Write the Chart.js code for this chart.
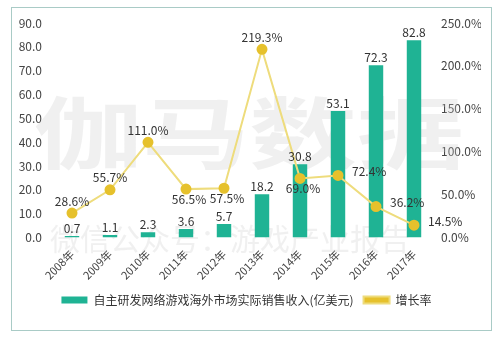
<!DOCTYPE html>
<html lang="zh">
<head>
  <meta charset="UTF-8">
  <title>自主研发网络游戏海外市场实际销售收入</title>
  <script src="https://cdn.jsdelivr.net/npm/chart.js"></script>
  <style>
    body {
      margin: 0;
      background: #ffffff;
      font-family: 'Noto Sans CJK SC', 'Noto Sans', sans-serif;
    }
    .frame {
      position: absolute;
      left: 11px;
      top: 7px;
      width: 479px;
      height: 322px;
      border: 1px solid #a9cbc6;
    }
  </style>
</head>
<body>
  <div class="frame">
    <canvas id="chart" width="479" height="322"></canvas>
  </div>

  <script>
    const years = ['2008年', '2009年', '2010年', '2011年', '2012年', '2013年', '2014年', '2015年', '2016年', '2017年'];
    const revenue = [0.7, 1.1, 2.3, 3.6, 5.7, 18.2, 30.8, 53.1, 72.3, 82.8];
    const growth = [28.6, 55.7, 111.0, 56.5, 57.5, 219.3, 69.0, 72.4, 36.2, 14.5];
    // where each growth label sits relative to its point
    const growthLabelPos = ['above', 'above', 'above', 'below', 'below', 'above', 'below', 'right', 'right', 'right'];

    const FONT = "'Noto Sans CJK SC', 'Noto Sans', sans-serif";

    // faint watermark behind the marks
    const watermark = {
      id: 'watermark',
      beforeDatasetsDraw(chart) {
        const ctx = chart.ctx;
        ctx.save();
        ctx.fillStyle = 'rgba(200, 200, 200, 0.28)';
        ctx.textBaseline = 'middle';
        ctx.textAlign = 'left';
        ctx.save();
        ctx.translate(22, 125);
        ctx.scale(1.38, 1);
        ctx.font = 'bold 78px ' + FONT;
        ctx.fillText('伽马数据', 0, 0);
        ctx.restore();
        ctx.font = '30px ' + FONT;
        ctx.fillText('微信公众号：游戏产业报告', 38, 231);
        ctx.restore();
      }
    };

    const valueLabels = {
      id: 'valueLabels',
      afterDatasetsDraw(chart) {
        const ctx = chart.ctx;
        ctx.save();
        ctx.font = '12px ' + FONT;
        ctx.fillStyle = '#333333';

        const bars = chart.getDatasetMeta(0).data;
        ctx.textAlign = 'center';
        ctx.textBaseline = 'bottom';
        bars.forEach((bar, i) => {
          ctx.fillText(revenue[i].toFixed(1), bar.x, bar.y - 2);
        });

        const points = chart.getDatasetMeta(1).data;
        points.forEach((pt, i) => {
          const txt = growth[i].toFixed(1) + '%';
          const pos = growthLabelPos[i];
          if (pos === 'above') {
            ctx.textAlign = 'center';
            ctx.textBaseline = 'bottom';
            ctx.fillText(txt, pt.x, pt.y - 6);
          } else if (pos === 'below') {
            ctx.textAlign = 'center';
            ctx.textBaseline = 'top';
            ctx.fillText(txt, pt.x + 3, pt.y + 4);
          } else {
            ctx.textAlign = 'left';
            ctx.textBaseline = 'middle';
            ctx.fillText(txt, pt.x + 14, pt.y - 4);
          }
        });
        ctx.restore();
      }
    };

    new Chart(document.getElementById('chart'), {
      data: {
        labels: years,
        datasets: [{
          type: 'bar',
          label: '自主研发网络游戏海外市场实际销售收入(亿美元)',
          data: revenue,
          yAxisID: 'y',
          backgroundColor: '#1fb394',
          barPercentage: 0.38,
          categoryPercentage: 1.0,
          order: 1
        }, {
          type: 'line',
          label: '增长率',
          data: growth,
          yAxisID: 'y1',
          borderColor: '#eedc7c',
          backgroundColor: '#e6c12c',
          borderWidth: 2,
          pointRadius: 4.5,
          pointBackgroundColor: '#e6c12c',
          pointBorderColor: '#e6c12c',
          tension: 0,
          order: 0
        }]
      },
      options: {
        responsive: false,
        animation: false,
        layout: { padding: { top: 15, right: 10, bottom: 14, left: 0 } },
        plugins: {
          tooltip: { enabled: false },
          legend: {
            position: 'bottom',
            labels: {
              boxWidth: 26,
              boxHeight: 7,
              padding: 10,
              color: '#333333',
              font: { size: 12, family: FONT },
              sort: (a, b) => a.datasetIndex - b.datasetIndex
            }
          }
        },
        scales: {
          x: {
            grid: { display: false },
            border: { display: false },
            ticks: {
              color: '#444444',
              font: { size: 11, family: FONT },
              minRotation: 45,
              maxRotation: 45,
              padding: 2
            }
          },
          y: {
            position: 'left',
            min: 0,
            max: 90,
            grid: { display: false },
            border: { display: false },
            afterFit: (axis) => { axis.width = 41; },
            ticks: {
              stepSize: 10,
              color: '#444444',
              font: { size: 12, family: FONT },
              callback: (v) => v.toFixed(1)
            }
          },
          y1: {
            position: 'right',
            min: 0,
            max: 250,
            grid: { display: false },
            border: { display: false },
            afterFit: (axis) => { axis.width = 48; },
            ticks: {
              stepSize: 50,
              padding: 0,
              color: '#444444',
              font: { size: 12, family: FONT },
              callback: (v) => v.toFixed(1) + '%'
            }
          }
        }
      },
      plugins: [watermark, valueLabels]
    });
  </script>
</body>
</html>
